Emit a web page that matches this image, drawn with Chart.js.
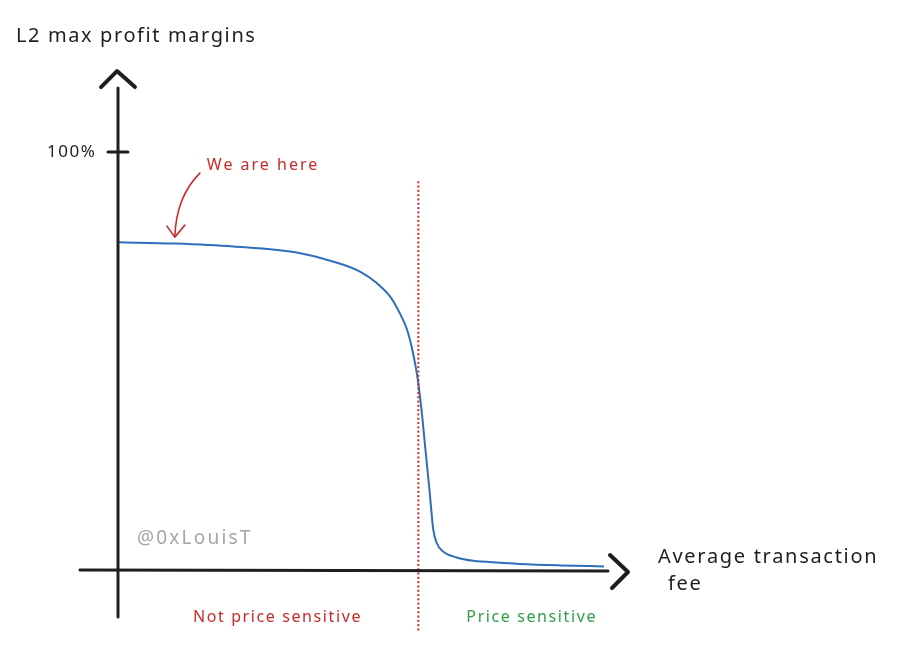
<!DOCTYPE html>
<html>
<head>
<meta charset="utf-8">
<script src="https://cdn.jsdelivr.net/npm/chart.js@4.4.1/dist/chart.umd.min.js"></script>
<style>
  html, body { margin: 0; padding: 0; background: #ffffff; }
  #wrap { width: 918px; height: 665px; position: relative; }
</style>
</head>
<body>
<div id="wrap"><canvas id="c" width="918" height="665"></canvas></div>
<script>
// ---- Data ----
// x: average transaction fee (arbitrary units 0..100), y: L2 max profit margin (%)
const feeX = [0, 11.7, 23.7, 37.5, 44.2, 49.8, 53.3, 56.0, 58.0, 59.5, 60.7, 61.6, 62.45, 63.27, 64.09, 64.88, 65.6, 66.9, 69.7, 73.1, 78.6, 82.7, 91.0, 100];
const marginY = [78.4, 78.1, 77.4, 75.8, 73.8, 71.4, 68.6, 65.4, 61.4, 57.4, 51.9, 46.2, 38.3, 28.7, 19.1, 9.6, 6.4, 4.4, 3.0, 2.2, 1.75, 1.45, 1.1, 0.85];
const yTickValues = [100];
const yTickLabels = ['100%'];
const thresholdX = [61.8];          // boundary between the two regimes
const hereX = 11.7;                 // "We are here" point on the curve
const labels = {
  yTitle: 'L2 max profit margins',
  xTitle: ['Average transaction', 'fee'],
  here: 'We are here',
  left: 'Not price sensitive',
  right: 'Price sensitive',
  credit: '@0xLouisT'
};

const points = feeX.map((x, i) => ({ x: x, y: marginY[i] }));

const FONT = "'Noto Sans', 'DejaVu Sans', sans-serif";
const INK = '#1e1e1e';
const RED = '#c92a2a';
const GREEN = '#2f9e44';

const decor = {
  id: 'decor',
  afterDatasetsDraw(chart) {
    const ctx = chart.ctx;
    const xs = chart.scales.x, ys = chart.scales.y;
    const x0 = xs.getPixelForValue(0);
    const y0 = ys.getPixelForValue(0);
    const xEnd = xs.getPixelForValue(100);
    const xT = xs.getPixelForValue(thresholdX[0]);
    ctx.save();
    ctx.lineCap = 'round';
    ctx.lineJoin = 'round';

    // threshold dotted line
    thresholdX.forEach(tx => {
      const px = xs.getPixelForValue(tx);
      ctx.fillStyle = RED;
      for (let y = ys.getPixelForValue(93); y <= y0 + 62; y += 4.3) {
        ctx.fillRect(px - 1, y, 2, 2);
      }
    });

    // y axis
    ctx.strokeStyle = INK;
    ctx.lineWidth = 3;
    ctx.beginPath();
    ctx.moveTo(x0, ys.getPixelForValue(115.3));
    ctx.lineTo(x0, y0 + 47);
    ctx.stroke();
    // y arrow head
    const yTop = ys.getPixelForValue(115.3) - 17;
    ctx.lineWidth = 4;
    ctx.beginPath();
    ctx.moveTo(x0 - 17, yTop + 16);
    ctx.lineTo(x0 - 1, yTop);
    ctx.lineTo(x0 + 17, yTop + 16);
    ctx.stroke();

    // x axis
    ctx.lineWidth = 3;
    ctx.beginPath();
    ctx.moveTo(x0 - 38, y0);
    ctx.lineTo(xEnd + 4, y0 + 1);
    ctx.stroke();
    ctx.lineWidth = 4;
    ctx.beginPath();
    ctx.moveTo(xEnd + 6, y0 - 15);
    ctx.lineTo(xEnd + 24, y0 + 2);
    ctx.lineTo(xEnd + 8, y0 + 18);
    ctx.stroke();

    // y ticks
    ctx.lineWidth = 3;
    ctx.font = '17px ' + FONT;
    ctx.fillStyle = INK;
    ctx.textAlign = 'left';
    ctx.textBaseline = 'middle';
    yTickValues.forEach((v, i) => {
      const py = ys.getPixelForValue(v);
      ctx.beginPath();
      ctx.moveTo(x0 - 10, py);
      ctx.lineTo(x0 + 10, py);
      ctx.stroke();
      ctx.letterSpacing = '1.5px';
      ctx.fillText(yTickLabels[i], x0 - 71, py);
    });

    // axis titles
    ctx.textBaseline = 'alphabetic';
    ctx.font = '20px ' + FONT;
    ctx.letterSpacing = '1.6px';
    ctx.fillText(labels.yTitle, 16, 42);
    ctx.letterSpacing = '1.7px';
    ctx.fillText(labels.xTitle[0], 658, y0 - 7);
    ctx.fillText(labels.xTitle[1], 668, y0 + 20);

    // credit
    ctx.fillStyle = '#a5a5a5';
    ctx.font = '19px ' + FONT;
    ctx.letterSpacing = '2.2px';
    ctx.textBaseline = 'middle';
    ctx.fillText(labels.credit, 137, ys.getPixelForValue(7.4));

    // regime labels
    const yLab = y0 + 47;
    ctx.font = '16px ' + FONT;
    ctx.letterSpacing = '1.6px';
    ctx.fillStyle = RED;
    ctx.fillText(labels.left, x0 + 75, yLab);
    ctx.fillStyle = GREEN;
    ctx.fillText(labels.right, xT + 48, yLab);

    // "We are here" annotation
    const hx = xs.getPixelForValue(hereX);
    const hy = ys.getPixelForValue(78.2);
    ctx.fillStyle = RED;
    ctx.font = '16px ' + FONT;
    ctx.letterSpacing = '2px';
    ctx.fillText(labels.here, hx + 32, hy - 78);
    ctx.letterSpacing = '0px';
    ctx.strokeStyle = RED;
    ctx.lineWidth = 1.6;
    ctx.beginPath();
    ctx.moveTo(hx + 25, hy - 70);
    ctx.bezierCurveTo(hx + 10, hy - 55, hx + 1, hy - 35, hx, hy - 7);
    ctx.stroke();
    ctx.beginPath();
    ctx.moveTo(hx - 8, hy - 17);
    ctx.lineTo(hx, hy - 6);
    ctx.lineTo(hx + 10, hy - 18);
    ctx.stroke();

    ctx.restore();
  }
};

new Chart(document.getElementById('c'), {
  type: 'line',
  data: {
    datasets: [{
      data: points,
      borderColor: '#2f6eb8',
      borderWidth: 2,
      pointRadius: 0,
      fill: false,
      cubicInterpolationMode: 'monotone',
      clip: false
    }]
  },
  options: {
    responsive: false,
    animation: false,
    layout: { padding: { left: 118, right: 314, top: 152, bottom: 95 } },
    plugins: { legend: { display: false }, tooltip: { enabled: false } },
    scales: {
      x: { type: 'linear', min: 0, max: 100, display: false },
      y: { type: 'linear', min: 0, max: 100, display: false }
    }
  },
  plugins: [decor]
});
</script>
</body>
</html>
